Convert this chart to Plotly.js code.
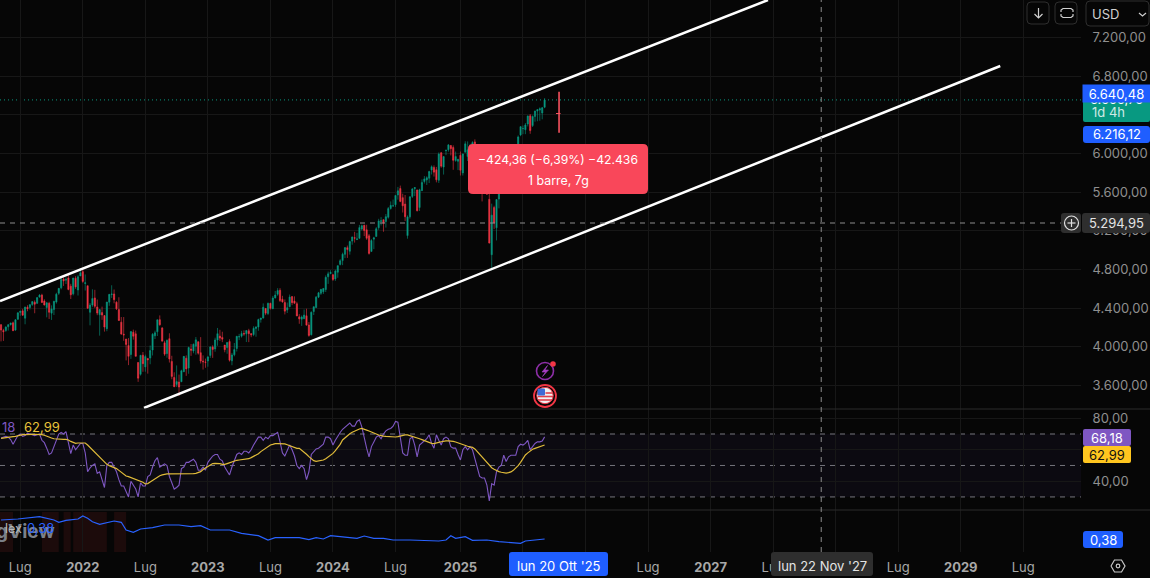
<!DOCTYPE html>
<html>
<head>
<meta charset="utf-8">
<script src="https://cdn.plot.ly/plotly-3.0.1.min.js"></script>
<style>html,body{margin:0;padding:0;background:#060606;overflow:hidden}</style>
</head>
<body>
<div id="chart" style="width:1150px;height:578px"></div>
<script>
// weekly bars ---------------------------------------------------------------
const weeks = [
"2021-05-10","2021-05-17","2021-05-24","2021-05-31","2021-06-07","2021-06-14","2021-06-21","2021-06-28","2021-07-05","2021-07-12",
"2021-07-19","2021-07-26","2021-08-02","2021-08-09","2021-08-16","2021-08-23","2021-08-30","2021-09-06","2021-09-13","2021-09-20",
"2021-09-27","2021-10-04","2021-10-11","2021-10-18","2021-10-25","2021-11-01","2021-11-08","2021-11-15","2021-11-22","2021-11-29",
"2021-12-06","2021-12-13","2021-12-20","2021-12-27","2022-01-03","2022-01-10","2022-01-17","2022-01-24","2022-01-31","2022-02-07",
"2022-02-14","2022-02-21","2022-02-28","2022-03-07","2022-03-14","2022-03-21","2022-03-28","2022-04-04","2022-04-11","2022-04-18",
"2022-04-25","2022-05-02","2022-05-09","2022-05-16","2022-05-23","2022-05-30","2022-06-06","2022-06-13","2022-06-20","2022-06-27",
"2022-07-04","2022-07-11","2022-07-18","2022-07-25","2022-08-01","2022-08-08","2022-08-15","2022-08-22","2022-08-29","2022-09-05",
"2022-09-12","2022-09-19","2022-09-26","2022-10-03","2022-10-10","2022-10-17","2022-10-24","2022-10-31","2022-11-07","2022-11-14",
"2022-11-21","2022-11-28","2022-12-05","2022-12-12","2022-12-19","2022-12-26","2023-01-02","2023-01-09","2023-01-16","2023-01-23",
"2023-01-30","2023-02-06","2023-02-13","2023-02-20","2023-02-27","2023-03-06","2023-03-13","2023-03-20","2023-03-27","2023-04-03",
"2023-04-10","2023-04-17","2023-04-24","2023-05-01","2023-05-08","2023-05-15","2023-05-22","2023-05-29","2023-06-05","2023-06-12",
"2023-06-19","2023-06-26","2023-07-03","2023-07-10","2023-07-17","2023-07-24","2023-07-31","2023-08-07","2023-08-14","2023-08-21",
"2023-08-28","2023-09-04","2023-09-11","2023-09-18","2023-09-25","2023-10-02","2023-10-09","2023-10-16","2023-10-23","2023-10-30",
"2023-11-06","2023-11-13","2023-11-20","2023-11-27","2023-12-04","2023-12-11","2023-12-18","2023-12-25","2024-01-01","2024-01-08",
"2024-01-15","2024-01-22","2024-01-29","2024-02-05","2024-02-12","2024-02-19","2024-02-26","2024-03-04","2024-03-11","2024-03-18",
"2024-03-25","2024-04-01","2024-04-08","2024-04-15","2024-04-22","2024-04-29","2024-05-06","2024-05-13","2024-05-20","2024-05-27",
"2024-06-03","2024-06-10","2024-06-17","2024-06-24","2024-07-01","2024-07-08","2024-07-15","2024-07-22","2024-07-29","2024-08-05",
"2024-08-12","2024-08-19","2024-08-26","2024-09-02","2024-09-09","2024-09-16","2024-09-23","2024-09-30","2024-10-07","2024-10-14",
"2024-10-21","2024-10-28","2024-11-04","2024-11-11","2024-11-18","2024-11-25","2024-12-02","2024-12-09","2024-12-16","2024-12-23",
"2024-12-30","2025-01-06","2025-01-13","2025-01-20","2025-01-27","2025-02-03","2025-02-10","2025-02-17","2025-02-24","2025-03-03",
"2025-03-10","2025-03-17","2025-03-24","2025-03-31","2025-04-07","2025-04-14","2025-04-21","2025-04-28","2025-05-05","2025-05-12",
"2025-05-19","2025-05-26","2025-06-02","2025-06-09","2025-06-16","2025-06-23","2025-06-30","2025-07-07","2025-07-14","2025-07-21",
"2025-07-28","2025-08-04","2025-08-11","2025-08-18","2025-08-25","2025-09-01","2025-09-08"];

const opens = [
4228,4169,4168,4207,4229,4248,4173,4285,4356,4372,
4296,4409,4406,4437,4462,4450,4514,4535,4474,4406,
4450,4348,4385,4463,4553,4610,4701,4689,4712,4628,
4548,4710,4588,4733,4778,4655,4632,4357,4432,4506,
4412,4332,4354,4323,4188,4462,4541,4547,4462,4385,
4255,4130,4081,4013,3920,4151,4134,3838,3715,3913,
3792,3880,3883,3966,4113,4155,4281,4195,4041,3930,
4084,3849,3682,3610,3635,3638,3741,3882,3780,3977,
3956,4006,4053,3939,3853,3843,3853,3911,3999,3978,
4070,4111,4097,4018,3992,4055,3855,3917,3982,4102,
4110,4137,4134,4166,4136,4126,4190,4205,4282,4298,
4397,4345,4450,4394,4506,4543,4585,4492,4458,4380,
4414,4520,4473,4446,4310,4285,4290,4321,4226,4125,
4365,4407,4514,4554,4569,4593,4725,4758,4745,4703,
4772,4853,4892,4957,5026,4989,5094,5130,5111,5123,
5219,5258,5211,5149,4987,5114,5142,5233,5298,5316,
5297,5341,5432,5459,5471,5572,5638,5544,5477,5151,
5345,5557,5637,5624,5442,5616,5711,5727,5745,5830,
5857,5833,5724,6008,5861,6030,6040,6083,6063,5928,
5920,5982,5800,6014,5970,5969,6048,6121,6026,5968,
5705,5635,5718,5527,4953,5441,5232,5529,5655,5807,
5902,5854,5897,6004,6005,5970,6193,6259,6247,6306,
6391,6290,6385,6440,6450,6420,6480];

const highs = [
4236,4186,4213,4234,4249,4261,4286,4356,4372,4393,
4415,4430,4442,4468,4480,4513,4545,4549,4492,4465,
4466,4429,4476,4559,4608,4718,4719,4718,4743,4652,
4713,4731,4741,4808,4818,4749,4632,4453,4595,4590,
4490,4389,4416,4327,4465,4546,4637,4593,4471,4513,
4308,4308,4081,4090,4159,4178,4168,3838,3914,3946,
3919,3880,4013,4141,4167,4280,4325,4204,4062,4076,
4140,3907,3736,3807,3712,3763,3905,3911,4001,4028,
4034,4101,4053,4100,3911,3878,3906,4003,4016,4094,
4195,4176,4156,4018,4049,4078,3937,4039,4110,4134,
4165,4170,4169,4186,4143,4212,4213,4291,4299,4449,
4400,4458,4456,4527,4578,4607,4607,4528,4490,4458,
4541,4521,4522,4466,4338,4324,4386,4394,4256,4366,
4418,4526,4568,4596,4609,4739,4778,4793,4754,4798,
4842,4907,4975,5030,5048,5098,5141,5190,5179,5262,
5265,5264,5263,5168,5114,5139,5239,5325,5342,5316,
5375,5447,5505,5524,5570,5655,5669,5585,5571,5360,
5555,5643,5651,5626,5636,5733,5767,5765,5822,5878,
5878,5862,6012,6017,5972,6044,6099,6088,6085,6021,
5942,6021,5997,6128,6126,6101,6128,6147,6043,5986,
5705,5715,5786,5655,5482,5460,5528,5687,5720,5964,
5969,5944,6017,6060,6059,6188,6285,6290,6316,6395,
6410,6395,6445,6462,6478,6482,6575];

const lows = [
4056,4061,4155,4168,4220,4164,4165,4279,4321,4321,
4233,4368,4385,4424,4347,4443,4513,4459,4428,4305,
4288,4278,4329,4447,4537,4595,4630,4650,4585,4495,
4532,4600,4531,4733,4662,4582,4395,4222,4414,4401,
4327,4115,4279,4157,4161,4424,4506,4450,4381,4268,
4124,4062,3859,3810,3875,4074,3901,3637,3702,3741,
3742,3722,3819,3910,4080,4112,4218,4057,3906,3887,
3837,3664,3585,3584,3491,3638,3741,3699,3721,3906,
3933,3918,3919,3827,3764,3783,3794,3885,3885,3949,
4011,4060,4048,3943,3928,3847,3809,3901,3951,4069,
4095,4114,4049,4048,4099,4110,4104,4166,4250,4292,
4328,4328,4385,4390,4500,4528,4464,4458,4335,4350,
4414,4431,4447,4317,4238,4216,4290,4224,4104,4117,
4329,4400,4504,4537,4546,4567,4651,4751,4682,4682,
4715,4842,4845,4918,4920,4954,5057,5079,5104,5117,
5204,5146,5107,4954,4987,5011,5142,5211,5256,5191,
5234,5327,5420,5448,5448,5523,5497,5390,5302,5119,
5326,5540,5560,5402,5406,5615,5690,5675,5695,5784,
5762,5702,5696,5853,5783,5984,6020,5981,5832,5915,
5829,5773,5773,6014,5923,5923,6003,6008,5837,5666,
5505,5603,5572,5069,4792,5220,5101,5433,5607,5786,
5767,5840,5861,5963,5952,5943,6180,6201,6201,6281,
6205,6275,6330,6335,6340,6355,6470];

const closes = [
4173,4155,4204,4229,4247,4166,4280,4352,4369,4327,
4411,4395,4436,4468,4441,4509,4535,4458,4432,4455,
4357,4391,4471,4544,4605,4697,4682,4698,4594,4538,
4712,4620,4725,4766,4677,4662,4398,4432,4500,4419,
4349,4385,4329,4204,4463,4543,4546,4488,4393,4272,
4132,4123,4024,3901,4158,4109,3901,3675,3912,3825,
3899,3864,3961,4130,4145,4280,4228,4058,3924,4067,
3873,3693,3586,3640,3583,3752,3901,3771,3993,3965,
4026,4072,3934,3852,3845,3839,3895,3999,3972,4071,
4136,4090,4079,3970,4045,3861,3916,3971,4109,4105,
4137,4133,4169,4136,4124,4191,4205,4282,4298,4409,
4348,4450,4398,4505,4536,4582,4478,4464,4369,4405,
4515,4457,4450,4320,4288,4309,4328,4224,4117,4358,
4415,4514,4559,4595,4604,4719,4755,4770,4697,4784,
4840,4891,4959,5027,5006,5089,5137,5124,5117,5234,
5254,5204,5123,4967,5100,5128,5223,5303,5305,5278,
5347,5431,5464,5460,5567,5615,5505,5459,5346,5344,
5554,5634,5648,5408,5626,5702,5738,5751,5815,5864,
5808,5729,5995,5870,5969,6032,6090,6051,5930,5970,
5942,5827,5997,6101,6040,6026,6114,6013,5954,5770,
5638,5667,5580,5074,5363,5282,5525,5686,5660,5958,
5802,5912,6000,5977,5968,6173,6279,6260,6297,6389,
6238,6385,6440,6455,6465,6475,6555];

// rsi pane
const rsi = [
67.5,68,68.5,68,66.5,63.5,66,69,70,68.5,
69,70.5,70,69.5,69,69.5,70,66,64.5,61,
57,58,62,65.5,70,71,70,71.5,63.5,57.5,
63,60,62,64,64,58,46,48.5,50,51,
45,46,41,36,50,52,52,49,46,41,
37,37,33,30,40,37,35,30,39,37,
37,43,44,49,53,55,49,50,51,50,
43,39,35,36,37.5,48,49,52,52,53,
54,52,47,47,49,47,52,54,56,57,
57,54,53,49,46,44,49,53,57,58,
57,59,59,58,60,63,66,68,68,66,
68,67,69,69,70,71,65,58,56,60,
63,60,56,50,48,50,48,41,46,57,
59,60.5,61,62.5,63.5,68,68,67,63,66,
69,71,73,74.5,76,77,75,75,78,79,
74.5,67,61,55.5,62,65,68,69,67,70,
72,73,73.5,75,78,77.5,67,58,56.5,56.5,
67,68,63,55.5,63,64.5,66,67,69.5,64,
61,69.5,66,63,67,68,67,62,61,61,
57,53.5,60,62,60,62,60,54.5,50,43,
42,42,37.5,27.5,38.5,37.5,46,49,50,56.5,
52.5,55.5,56.5,56.5,56.5,62,63.5,63,64,66,
60,62,64,65,65,65.5,68.18];

const rsiMa = [
67.2,67.5,67.7,67.9,68.1,68.3,68.5,68.9,69.4,69.6,
69.6,69.8,69.8,69.8,69.8,69.8,69.8,69.6,69.2,68.5,
67.9,67.5,67,66.8,66.6,66.6,66.6,66.6,66.2,65.3,
64.5,64.1,64.3,64.3,64.5,64.3,63,61.5,60.3,58.8,
57.3,55.6,53.9,52.2,50.7,49.9,49.3,48.6,48,46.9,
45.7,44.4,43.3,42.9,42.3,41.9,41.4,40.8,40.2,39.3,
38.3,38.5,39.5,40.6,41.6,42.7,43.5,44,44.4,44.6,
44.6,44.6,44.6,44.6,44.4,44.4,44.4,44.4,44.4,44.6,
44.8,45,45.5,46.1,47.4,48.4,49.5,50.3,51.2,51.4,
51.4,51.2,50.7,50.7,51.2,51.8,52.2,52.6,53.3,53.5,
53.7,53.7,53.9,54.3,55,55.8,56.7,57.5,58.8,60,
61.1,62.4,63,63.4,63.9,63.9,63.9,63.9,63.7,63.2,
62.6,62,61.3,60.9,60.9,59.8,58.4,57.1,55.6,54.1,
53.1,52.6,52.9,52.9,53.5,54.3,55.4,56.7,57.7,59.4,
61.1,63.4,66.2,67.7,68.9,70.2,71.1,71.9,72.5,73.2,
73.6,73.2,72.5,71.9,71.1,70.4,70,69.4,68.9,68.7,
68.5,68.3,68.1,68.1,68.1,68.3,68.7,69.2,69.4,69.4,
69,68.5,68.1,67.7,67,66.4,65.8,65.1,64.5,64.1,
63.9,64.1,64.7,65.1,65.6,65.6,65.6,65.6,65.3,64.9,
64.3,63.7,63,62.6,62.2,61.8,61.5,60.5,58.8,56.7,
55.4,53.5,51.4,49.9,48.6,47.6,46.7,46.1,45.7,45.5,
45.2,45.5,45.9,46.9,48.2,49.9,52,54.6,56.7,58,
59.2,60.3,60.9,61.5,62.2,62.6,62.99];

// lower pane, one value every few weeks
const flowWeeks = [
"2021-05-10","2021-06-28","2021-08-30","2021-10-11","2021-10-25","2021-11-15","2021-12-20","2022-01-03","2022-01-17","2022-01-31",
"2022-02-21","2022-03-14","2022-04-04","2022-04-25","2022-05-09","2022-05-30","2022-06-20","2022-07-25","2022-08-29","2022-10-10",
"2022-11-14","2022-12-12","2023-01-09","2023-02-06","2023-03-06","2023-04-10","2023-05-29","2023-06-26","2023-07-17","2023-09-25",
"2023-10-23","2023-11-13","2023-12-04","2023-12-25","2024-02-12","2024-03-11","2024-04-01","2024-04-29","2024-05-27","2024-06-24",
"2024-08-12","2024-11-04","2024-11-25","2024-12-09","2024-12-23","2025-01-20","2025-02-10","2025-03-24","2025-04-28","2025-06-30",
"2025-07-14","2025-09-08"];
const flowValues = [
0.57,0.58,0.603,0.57,0.547,0.567,0.58,0.61,0.587,0.553,
0.527,0.547,0.56,0.547,0.47,0.447,0.48,0.493,0.52,0.52,
0.503,0.513,0.47,0.47,0.47,0.437,0.413,0.37,0.393,0.393,
0.373,0.393,0.38,0.413,0.397,0.387,0.41,0.387,0.387,0.37,
0.37,0.36,0.37,0.413,0.387,0.403,0.367,0.37,0.353,0.337,
0.36,0.38];
const shadeFrom = ["2021-05-07","2021-09-06","2021-11-08","2021-12-06","2022-04-04"];
const shadeTo = ["2021-06-14","2021-10-25","2021-11-29","2022-03-14","2022-05-09"];

// drawn lines and tick labels
const upperChannelX = ["2021-05-07","2027-06-20"];
const upperChannelY = [4474, 7590];
const lowerChannelX = ["2022-06-30","2029-04-26"];
const lowerChannelY = [3367, 6907];
const measureX = ["2025-10-20","2025-10-20"];
const measureY = [6640.48, 6216.12];

const priceTicks = [3600,4000,4400,4800,5200,5600,6000,6400,6800,7200];
const priceLabels = ["3.600,00","4.000,00","4.400,00","4.800,00","5.200,00","5.600,00","6.000,00","6.400,00","6.800,00","7.200,00"];
const rsiTicks = [40,60,80];
const rsiLabels = ["40,00","60,00","80,00"];
const timeTicks = ["2021-07-05","2022-01-03","2022-07-04","2023-01-02","2023-07-03","2024-01-01","2024-07-01","2025-01-06","2025-07-07","2026-01-05","2026-07-06","2027-01-04","2027-07-05","2028-01-03","2028-07-03","2029-01-01","2029-07-02"];
const timeLabels = ["Lug","<b>2022</b>","Lug","<b>2023</b>","Lug","<b>2024</b>","Lug","<b>2025</b>","Lug","<b>2026</b>","Lug","<b>2027</b>","Lug","<b>2028</b>","Lug","<b>2029</b>","Lug"];

// pixel helpers for the overlays ----------------------------------------------
const plotW = 1081, plotH = 552;
const px = x => x / plotW;
const py = y => 1 - y / plotH;
const FONT = "Inter, 'Noto Sans', sans-serif";

function roundRect(x0, y0, x1, y1, r) {
    let p = (x, y) => px(x) + "," + py(y);
    return "M" + p(x0 + r, y0) + " L" + p(x1 - r, y0) + " Q" + p(x1, y0) + " " + p(x1, y0 + r) +
        " L" + p(x1, y1 - r) + " Q" + p(x1, y1) + " " + p(x1 - r, y1) +
        " L" + p(x0 + r, y1) + " Q" + p(x0, y1) + " " + p(x0, y1 - r) +
        " L" + p(x0, y0 + r) + " Q" + p(x0, y0) + " " + p(x0 + r, y0) + " Z";
}
function box(x0, y0, x1, y1, r, fill, stroke) {
    return {type: "path", xref: "paper", yref: "paper", layer: "above", path: roundRect(x0, y0, x1, y1, r),
        fillcolor: fill, line: {color: stroke || fill, width: stroke ? 1 : 0}};
}
function stroke(points, color, width, fill) {
    let d = points.map((q, i) => (i ? "L" : "M") + px(q[0]) + "," + py(q[1])).join(" ");
    return {type: "path", xref: "paper", yref: "paper", layer: "above", path: d,
        line: {color: color, width: width}, fillcolor: fill || "rgba(0,0,0,0)"};
}
function circle(cx, cy, r, fill, line, width) {
    return {type: "circle", xref: "paper", yref: "paper", layer: "above",
        x0: px(cx - r), x1: px(cx + r), y0: py(cy + r), y1: py(cy - r),
        fillcolor: fill, line: {color: line || fill, width: width === undefined ? 0 : width}};
}
function label(text, x, y, color, size, anchor, extra) {
    return Object.assign({text: text, xref: "paper", yref: "paper", x: px(x), y: py(y), xanchor: anchor || "center", yanchor: "middle",
        showarrow: false, font: {family: FONT, size: size || 13, color: color}}, extra || {});
}
function tag(text, x0, y0, x1, y1, bg, color) {
    return label(text, (x0 + x1) / 2, (y0 + y1) / 2, color, 13, "center",
        {width: x1 - x0, height: y1 - y0, bgcolor: bg, borderpad: 0, valign: "middle"});
}

// traces ----------------------------------------------------------------------
const GREEN = "#089981", RED = "#f23645";
const traces = [
    {type: "candlestick", x: weeks, open: opens, high: highs, low: lows, close: closes, whiskerwidth: 0,
        increasing: {line: {color: GREEN, width: 0.6}, fillcolor: GREEN},
        decreasing: {line: {color: RED, width: 0.6}, fillcolor: RED}, hoverinfo: "skip"},
    {type: "scatter", mode: "lines", x: upperChannelX, y: upperChannelY, line: {color: "#ffffff", width: 2.5}, hoverinfo: "skip"},
    {type: "scatter", mode: "lines", x: lowerChannelX, y: lowerChannelY, line: {color: "#ffffff", width: 2.5}, hoverinfo: "skip"},
    {type: "scatter", mode: "lines", x: measureX, y: measureY, line: {color: "#f7525f", width: 1.6}, hoverinfo: "skip"},
    {type: "scatter", mode: "lines", x: weeks, y: rsi, yaxis: "y2", line: {color: "#7e57c2", width: 1.1}, hoverinfo: "skip"},
    {type: "scatter", mode: "lines", x: weeks, y: rsiMa, yaxis: "y2", line: {color: "#e0bb3a", width: 1.2}, hoverinfo: "skip"},
    {type: "scatter", mode: "lines", x: flowWeeks, y: flowValues, yaxis: "y3", line: {color: "#2962ff", width: 1.2}, hoverinfo: "skip"}
];

// overlays --------------------------------------------------------------------
const shapes = [];
// rsi band and levels
shapes.push({type: "rect", xref: "paper", yref: "y2", layer: "below", x0: 0, x1: 1, y0: 30, y1: 70, fillcolor: "#0c0a11", line: {width: 0}});
[70, 50, 30].forEach(v => shapes.push({type: "line", xref: "paper", yref: "y2", x0: 0, x1: 1, y0: v, y1: v, layer: "below",
    line: {color: "#74747c", width: 1, dash: "5px,5px"}}));
// lower pane shading
shadeFrom.forEach((d, i) => shapes.push({type: "rect", xref: "x", yref: "paper", layer: "below", x0: d, x1: shadeTo[i],
    y0: 0, y1: py(512), fillcolor: "#1c0b0b", line: {width: 0}}));
// pane separators
[409, 510].forEach(y => shapes.push(stroke([[0, y], [1150, y]], "#2a2a2a", 1)));
// current price, crosshair
shapes.push({type: "line", xref: "paper", yref: "y", x0: 0, x1: 1, y0: 6555.75, y1: 6555.75, layer: "below",
    line: {color: GREEN, width: 1, dash: "1px,3px"}});
shapes.push(Object.assign(stroke([[0, 223], [1061, 223]], "#8c8c8c", 1), {line: {color: "#8c8c8c", width: 1, dash: "5px,5px"}}));
shapes.push({type: "line", xref: "x", yref: "paper", x0: "2027-11-22", x1: "2027-11-22", y0: 0, y1: 1, layer: "above",
    line: {color: "#8c8c8c", width: 1, dash: "5px,5px"}});
// measure tick
shapes.push(stroke([[556, 113.5], [560.5, 113.5]], "#f7525f", 1));
// tooltip
shapes.push(box(468, 144, 648, 194, 5, "#f9475a"));
// price scale tags
shapes.push(box(1083, 94, 1150, 122, 2, GREEN));
shapes.push(box(1083, 126, 1150, 143, 3, "#1f5eff"));
shapes.push(box(1061, 213, 1081, 233, 3, "#2e2e2e"));
shapes.push(box(1082, 213, 1150, 233, 3, "#2e2e2e"));
shapes.push(circle(1071.5, 223, 7, "rgba(0,0,0,0)", "#e0e0e0", 1.2));
shapes.push(stroke([[1067.5, 223], [1075.5, 223]], "#e0e0e0", 1.2));
shapes.push(stroke([[1071.5, 219], [1071.5, 227]], "#e0e0e0", 1.2));
shapes.push(box(1083, 429, 1131, 446, 2, "#7e57c2"));
shapes.push(box(1083, 446, 1131, 463, 2, "#ffc61f"));
shapes.push(box(1083, 531, 1123, 548, 3, "#1f5eff"));
// date tags
shapes.push(box(509, 552, 608, 576, 3, "#1f5eff"));
shapes.push(box(771, 552, 873, 576, 3, "#2e2e2e"));
// top buttons
shapes.push(box(1027, 2, 1049, 24, 4, "#060606", "#2e2e2e"));
shapes.push(stroke([[1038.5, 8], [1038.5, 18]], "#d0d0d0", 1.2));
shapes.push(stroke([[1034.5, 14], [1038.5, 18], [1042.5, 14]], "#d0d0d0", 1.2));
shapes.push(box(1055, 2, 1077, 24, 4, "#060606", "#2e2e2e"));
shapes.push(stroke([[1061, 12], [1061, 10], [1063, 8.5], [1071, 8.5], [1073, 10], [1073, 12]], "#d0d0d0", 1.2));
shapes.push(stroke([[1061, 14], [1061, 16], [1063, 17.5], [1071, 17.5], [1073, 16], [1073, 14]], "#d0d0d0", 1.2));
shapes.push(box(1086, 1, 1149, 26, 4, "#060606", "#2e2e2e"));
shapes.push(stroke([[1139, 13], [1142.5, 16], [1146, 13]], "#d0d0d0", 1.2));
// settings hexagon
shapes.push(stroke([[1111, 566], [1114.5, 560], [1121.5, 560], [1125, 566], [1121.5, 572], [1114.5, 572], [1111, 566]], "#c8c8c8", 1.2));
shapes.push(circle(1118, 566, 1.8, "rgba(0,0,0,0)", "#c8c8c8", 1.2));
// event icons
shapes.push(circle(545, 371, 8.5, "rgba(0,0,0,0)", "#8e2fa8", 1.6));
shapes.push(stroke([[547.5, 365.5], [542, 372], [545.5, 372], [542.5, 376.5], [548.5, 370], [545, 370], [547.5, 365.5]], "#a63ec2", 0.6, "#a63ec2"));
shapes.push(circle(553, 364, 2.8, "#f23645"));
shapes.push(circle(545, 396, 11, "#060606", "#f23645", 1.8));
shapes.push(circle(545, 395.5, 8.2, "#f0f0f0", "#f23645", 1));
shapes.push(stroke([[538, 396.5], [553, 396.5]], "#e0404c", 1.6));
shapes.push(stroke([[538, 400], [552, 400]], "#e0404c", 1.6));
shapes.push(stroke([[545.5, 393], [553, 393]], "#e0404c", 1.6));
shapes.push(box(537.5, 388.5, 545, 395.5, 1, "#3d6bd6"));

const annotations = [
    label("\u2212424,36 (\u22126,39%) \u221242.436", 558, 159.5, "#ffffff", 12.2),
    label("1 barre, 7g", 558, 180, "#ffffff", 12.4),
    // price scale
    label("6.555,75", 1116.5, 99.5, "#ffffff", 13),
    label("1d 4h", 1108, 112.5, "#ffffff", 13, "center", {opacity: 0.8}),
    tag("6.640,48", 1083, 85, 1150, 102, "#1f5eff", "#ffffff"),
    label("6.216,12", 1116.5, 134, "#ffffff", 13),
    label("5.294,95", 1116.5, 223, "#e4e4e4", 13),
    label("68,18", 1107, 437.5, "#ffffff", 13),
    label("62,99", 1107, 454.5, "#111111", 13),
    label("0,38", 1103, 539.5, "#ffffff", 13),
    label("lun 20 Ott '25", 558.5, 565.5, "#ffffff", 13),
    label("lun 22 Nov '27", 822, 565.5, "#e4e4e4", 13),
    label("USD", 1090, 13.5, "#d0d0d0", 13, "left"),
    // pane legends
    label("18", 0, 427, "#7e57c2", 13, "left"),
    label("62,99", 22, 427, "#e8c33a", 13, "left"),
    label("gView", 57, 531, "#7b8088", 19, "right", {font: {family: FONT, size: 19, color: "#7b8088", weight: 700}}),
    label("lex", 3, 528, "#b8b8b8", 12.5, "left"),
    label("0,38", 25, 527.5, "#2962ff", 13, "left")
];

const tickFont = {family: FONT, size: 13, color: "#8f8f8f"};
const layout = {
    width: 1150, height: 578,
    margin: {l: 0, r: 69, t: 0, b: 26, pad: 0},
    paper_bgcolor: "#060606", plot_bgcolor: "#060606",
    showlegend: false, dragmode: false,
    font: {family: FONT},
    xaxis: {type: "date", range: ["2021-05-07", "2029-12-17"], anchor: "y3", rangeslider: {visible: false},
        tickmode: "array", tickvals: timeTicks, ticktext: timeLabels, tickangle: 0, tickfont: Object.assign({}, tickFont, {color: "#a8a8a8"}),
        ticks: "outside", ticklen: 3, tickcolor: "rgba(0,0,0,0)", showgrid: true, gridcolor: "#171717", zeroline: false, showline: false},
    yaxis: {domain: [1 - 409 / plotH, 1], range: [3356, 7590], side: "right", anchor: "x",
        tickmode: "array", tickvals: priceTicks, ticktext: priceLabels, tickfont: tickFont,
        ticks: "outside", ticklen: 8, tickcolor: "rgba(0,0,0,0)", gridcolor: "#171717", zeroline: false},
    yaxis2: {domain: [1 - 510 / plotH, 1 - 409 / plotH], range: [21.7, 85.9], side: "right", anchor: "x",
        tickmode: "array", tickvals: rsiTicks, ticktext: rsiLabels, tickfont: tickFont,
        ticks: "outside", ticklen: 8, tickcolor: "rgba(0,0,0,0)", gridcolor: "#171717", zeroline: false},
    yaxis3: {domain: [0, 1 - 510 / plotH], range: [0.25, 0.67], side: "right", anchor: "x",
        showticklabels: false, ticks: "", showgrid: false, zeroline: false},
    shapes: shapes,
    annotations: annotations
};

Plotly.newPlot("chart", traces, layout, {staticPlot: true, displayModeBar: false});
</script>
</body>
</html>
